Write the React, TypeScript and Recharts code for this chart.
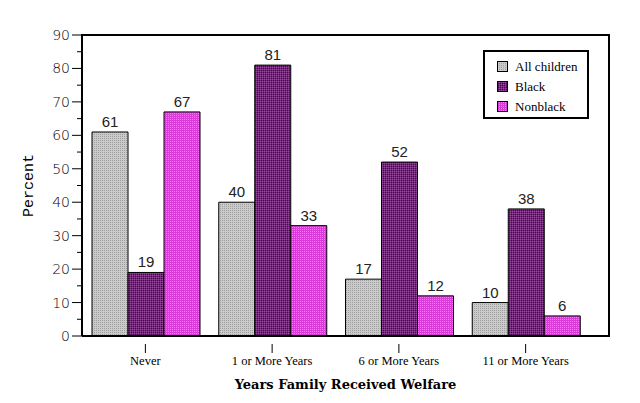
import { BarChart, Bar, XAxis, YAxis, LabelList } from 'recharts';

/* ── Data ───────────────────────────────────── */

const categories = ['Never', '1 or More Years', '6 or More Years', '11 or More Years'];
const allChildren = [61, 40, 17, 10];
const black = [19, 81, 52, 38];
const nonblack = [67, 33, 12, 6];
const yTicks = [0, 5, 10, 15, 20, 25, 30, 35, 40, 45, 50, 55, 60, 65, 70, 75, 80, 85, 90];

const data = categories.map((name, i) => ({
  name,
  all: allChildren[i],
  black: black[i],
  nonblack: nonblack[i],
}));

const SERIES = [
  { key: 'all', label: 'All children', fill: 'url(#patGray)' },
  { key: 'black', label: 'Black', fill: 'url(#patBlack)' },
  { key: 'nonblack', label: 'Nonblack', fill: 'url(#patNon)' },
];

/* ── Patterns (dithered fills) ──────────────── */

function Patterns() {
  return (
    <defs>
      <pattern id="patGray" width={2} height={2} patternUnits="userSpaceOnUse">
        <rect width={2} height={2} fill="#cacaca" />
        <rect width={1} height={1} fill="#a0a0a0" />
      </pattern>
      <pattern id="patBlack" width={2} height={2} patternUnits="userSpaceOnUse">
        <rect width={2} height={2} fill="#74287a" />
        <rect x={1} y={0} width={1} height={1} fill="#3a1040" />
        <rect x={0} y={1} width={1} height={1} fill="#a040b0" />
      </pattern>
      <pattern id="patNon" width={2} height={2} patternUnits="userSpaceOnUse">
        <rect width={2} height={2} fill="#d83ad8" />
        <rect x={1} y={0} width={1} height={1} fill="#b050e0" />
        <rect x={0} y={1} width={1} height={1} fill="#f080f0" />
      </pattern>
    </defs>
  );
}

/* ── Ticks ──────────────────────────────────── */

function YTick(props: any) {
  const { y, payload } = props;
  const major = payload.value % 10 === 0;
  return (
    <g>
      <line x1={major ? 72 : 77} x2={82} y1={y} y2={y} stroke="#000" strokeWidth={1} />
      {major && (
        <text x={70} y={y + 5} textAnchor="end" fontSize={14} fontFamily="DejaVu Sans" fontWeight={300} fill="#000">
          {payload.value}
        </text>
      )}
    </g>
  );
}

function XTick(props: any) {
  const { x, y, payload } = props;
  return (
    <g>
      <line x1={x} x2={x} y1={y} y2={y + 9} stroke="#000" />
      <text x={x} y={y + 21} textAnchor="middle" fontSize={12.5} fontFamily="Liberation Serif" fill="#000">
        {payload.value}
      </text>
    </g>
  );
}

function LegendBox() {
  return (
    <div
      style={{
        position: 'absolute',
        left: 483,
        top: 50,
        width: 106,
        height: 69,
        border: '2px solid #000',
        background: '#fff',
        boxSizing: 'border-box',
        padding: '5px 0 0 12px',
        fontFamily: 'Liberation Serif',
        fontSize: 13,
      }}
    >
      {SERIES.map((s) => (
        <div key={s.key} style={{ display: 'flex', alignItems: 'center', height: 20 }}>
          <svg width={12} height={12} style={{ marginRight: 6 }}>
            <rect x={0.5} y={0.5} width={10} height={10} fill={s.fill} stroke="#000" />
          </svg>
          <span>{s.label}</span>
        </div>
      ))}
    </div>
  );
}

export default function App() {
  return (
    <div style={{ position: 'absolute', left: 0, top: 0, width: 640, height: 403, background: '#fff' }}>
      <BarChart
        width={640}
        height={403}
        data={data}
        margin={{ top: 35, right: 31, left: 0, bottom: 0 }}
        barCategoryGap={10}
        barGap={0}
      >
        <Patterns />
        <XAxis
          dataKey="name"
          height={67}
          axisLine={{ stroke: '#000', strokeWidth: 2 }}
          tickLine={false}
          tick={<XTick />}
          interval={0}
          padding={{ left: 0, right: 20 }}
          label={{
            value: 'Years Family Received Welfare',
            position: 'insideBottom',
            offset: 14,
            fontFamily: 'DejaVu Serif',
            fontWeight: 'bold',
            fontSize: 13,
            fill: '#000',
          }}
        />
        <YAxis
          domain={[0, 90]}
          ticks={yTicks}
          width={82}
          interval={0}
          axisLine={{ stroke: '#000', strokeWidth: 2 }}
          tickLine={false}
          tick={<YTick />}
          label={{
            value: 'Percent',
            angle: -90,
            position: 'insideLeft',
            offset: 28,
            fontFamily: 'Liberation Mono',
            fontSize: 15,
            fill: '#000',
            style: { textAnchor: 'middle' },
          }}
        />
        {SERIES.map((s) => (
          <Bar key={s.key} dataKey={s.key} fill={s.fill} stroke="#000" strokeWidth={1} isAnimationActive={false}>
            <LabelList dataKey={s.key} position="top" offset={5} fontFamily="Liberation Sans" fontSize={15} fill="#222" />
          </Bar>
        ))}
      </BarChart>
      {/* plot frame: top and right edges */}
      <div
        style={{
          position: 'absolute',
          left: 81,
          top: 34,
          width: 529,
          height: 303,
          borderTop: '2px solid #000',
          borderRight: '2px solid #000',
          boxSizing: 'border-box',
          pointerEvents: 'none',
        }}
      />
      <LegendBox />
    </div>
  );
}
